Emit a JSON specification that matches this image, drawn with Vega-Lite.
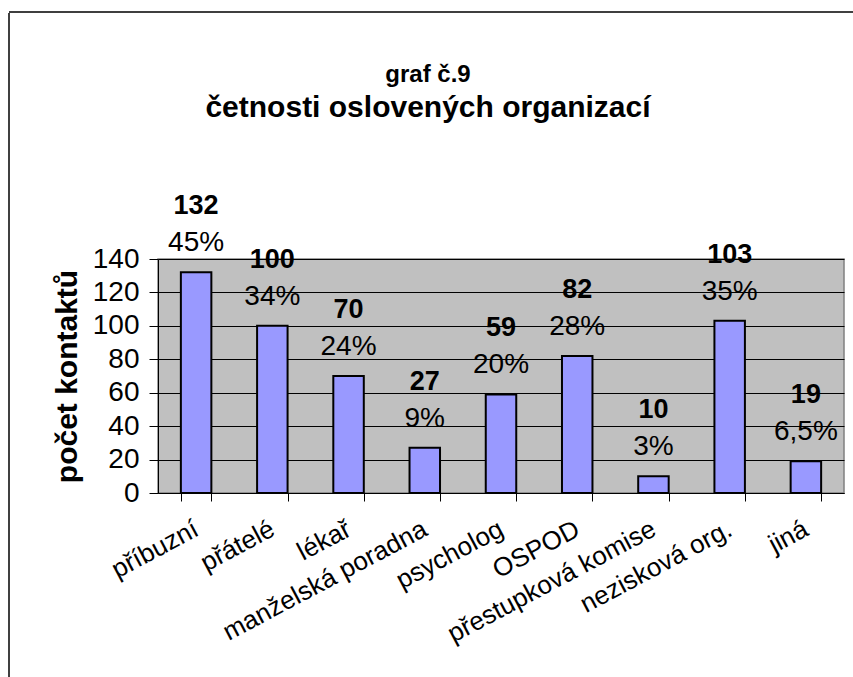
{
  "$schema": "https://vega.github.io/schema/vega-lite/v6.json",
  "padding": {"left": 8, "top": 11, "right": 0, "bottom": 0},
  "bounds": "flush",
  "spacing": 0,
  "config": {
    "font": "Liberation Sans",
    "background": "white"
  },
  "vconcat": [
    {
      "width": 844,
      "height": 1,
      "data": {"values": []},
      "mark": {"type": "text"},
      "encoding": {},
      "view": {"stroke": "black", "strokeWidth": 1.5, "fill": null, "strokeDash": [844, 846]},
      "title": {
        "text": "graf č.9",
        "subtitle": "četnosti oslovených organizací",
        "font": "Liberation Sans",
        "subtitleFont": "Liberation Sans",
        "fontSize": 24,
        "fontWeight": "bold",
        "subtitleFontSize": 30,
        "subtitleFontWeight": "bold",
        "color": "black",
        "subtitleColor": "black",
        "anchor": "middle",
        "dx": -3,
        "subtitlePadding": 6,
        "offset": -111
      }
    },
    {
      "bounds": "flush",
      "spacing": 148,
      "hconcat": [
        {
          "width": 1,
          "height": 664,
          "data": {"values": []},
          "mark": {"type": "text"},
          "encoding": {},
          "view": {"stroke": "black", "strokeWidth": 1.5, "fill": null, "strokeDash": [0, 666, 664, 0]}
        },
        {
          "bounds": "flush",
          "spacing": 0,
          "vconcat": [
            {
              "width": 686,
              "height": 246,
              "data": {"values": []},
              "mark": {"type": "text"},
              "encoding": {},
              "view": {"stroke": null, "fill": null}
            },
            {
              "width": 686,
              "height": 234,
              "data": {
                "values": [
                  {"kategorie": "příbuzní", "pocet": 132, "procenta": "45%"},
                  {"kategorie": "přátelé", "pocet": 100, "procenta": "34%"},
                  {"kategorie": "lékař", "pocet": 70, "procenta": "24%"},
                  {"kategorie": "manželská poradna", "pocet": 27, "procenta": "9%"},
                  {"kategorie": "psycholog", "pocet": 59, "procenta": "20%"},
                  {"kategorie": "OSPOD", "pocet": 82, "procenta": "28%"},
                  {"kategorie": "přestupková komise", "pocet": 10, "procenta": "3%"},
                  {"kategorie": "nezisková org.", "pocet": 103, "procenta": "35%"},
                  {"kategorie": "jiná", "pocet": 19, "procenta": "6,5%"}
                ]
              },
              "view": {"fill": "#C0C0C0", "stroke": "#808080", "strokeWidth": 1.5},
              "encoding": {
                "x": {
                  "field": "kategorie",
                  "type": "nominal",
                  "sort": null,
                  "scale": {"paddingInner": 0.6, "paddingOuter": 0.3},
                  "axis": {
                    "title": null,
                    "labelAngle": -28,
                    "labelAlign": "right",
                    "labelBaseline": "middle",
                    "labelFontSize": 26,
                    "labelColor": "black",
                    "labelPadding": 26,
                    "labelLimit": 0,
                    "labelOverlap": false,
                    "tickBand": "extent",
                    "tickSize": 8,
                    "tickColor": "black",
                    "tickWidth": 1,
                    "domainColor": "black",
                    "domainWidth": 1,
                    "grid": false
                  }
                },
                "y": {
                  "field": "pocet",
                  "type": "quantitative",
                  "scale": {"domain": [0, 140], "nice": false},
                  "axis": {
                    "title": "počet kontaktů",
                    "values": [0, 20, 40, 60, 80, 100, 120, 140],
                    "labelFontSize": 28,
                    "labelColor": "black",
                    "labelPadding": 10,
                    "tickSize": 9,
                    "tickColor": "black",
                    "tickWidth": 1,
                    "domainColor": "black",
                    "domainWidth": 1,
                    "grid": true,
                    "gridColor": "black",
                    "gridWidth": 1,
                    "titleFontSize": 30,
                    "titleFontWeight": "bold",
                    "titleColor": "black",
                    "titlePadding": 10
                  }
                }
              },
              "layer": [
                {
                  "mark": {"type": "bar", "fill": "#9999FF", "stroke": "black", "strokeWidth": 2}
                },
                {
                  "mark": {"type": "text", "baseline": "alphabetic", "dy": -58, "fontSize": 27, "fontWeight": "bold", "color": "black"},
                  "encoding": {"text": {"field": "pocet", "type": "quantitative"}}
                },
                {
                  "mark": {"type": "text", "baseline": "alphabetic", "dy": -21, "fontSize": 28, "color": "black"},
                  "encoding": {"text": {"field": "procenta", "type": "nominal"}}
                }
              ]
            }
          ]
        }
      ]
    }
  ]
}
